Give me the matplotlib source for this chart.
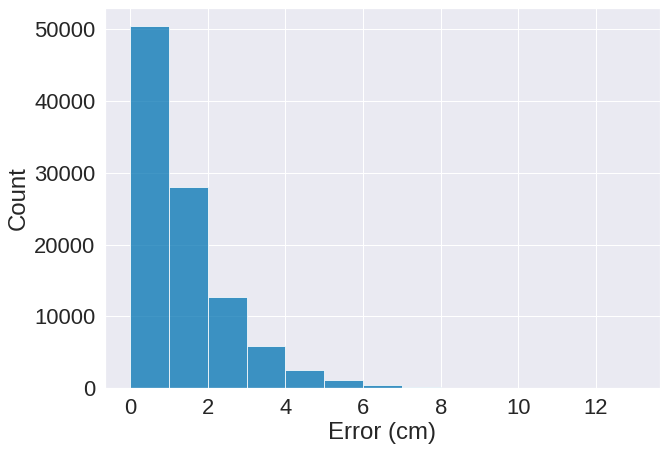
import matplotlib
matplotlib.use("Agg")
import matplotlib.pyplot as plt
import seaborn as sns
import numpy as np

bin_edges = [0, 1, 2, 3, 4, 5, 6, 7, 8, 9, 10, 11, 12, 13]
counts = [50450, 28050, 12650, 5850, 2450, 1050, 450, 180, 60, 25, 10, 5, 3]

sns.set_theme(style="darkgrid", palette="colorblind", font_scale=2)
plt.rcParams["font.family"] = ["Liberation Sans", "DejaVu Sans"]

fig = plt.figure(figsize=(669/72, 451/72), dpi=72)
ax = fig.add_axes([105/669, 1-388/451, (660-105)/669, (388-8)/451])
ax.bar(bin_edges[:-1], counts, width=np.diff(bin_edges), align="edge",
       color="#0173b2", alpha=0.75, edgecolor="white", linewidth=1)
ax.set_xlabel("Error (cm)")
ax.set_ylabel("Count")
ax.set_xticks([0, 2, 4, 6, 8, 10, 12])
ax.set_yticks([0, 10000, 20000, 30000, 40000, 50000])
fig.savefig("out.png", dpi=72)
